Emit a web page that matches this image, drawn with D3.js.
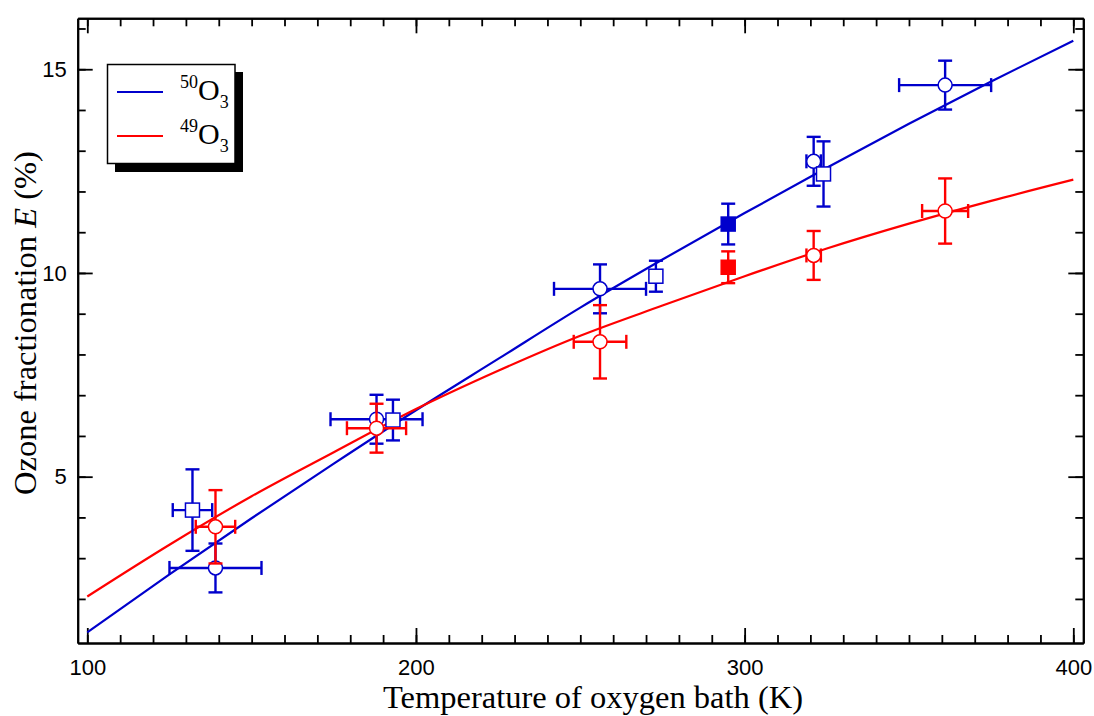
<!DOCTYPE html>
<html lang="en">
<head>
<meta charset="UTF-8">
<title>Ozone fractionation</title>
<script src="https://d3js.org/d3.v7.min.js"></script>
<style>
  body { margin: 0; background: #fff; }
  .tick text { font-family: "Liberation Sans", Arial, sans-serif; font-size: 22px; fill: #000; }
  .title { font-family: "Liberation Serif", "Times New Roman", serif; font-size: 32.5px; fill: #000; }
</style>
</head>
<body>
<svg width="1094" height="716"></svg>
<script>
// fitted curves
const fitT = [100, 125, 150, 175, 200, 225, 250, 275, 300, 325, 350, 375, 400];
const fit50 = [1.18, 2.60, 3.98, 5.32, 6.63, 7.89, 9.15, 10.33, 11.47, 12.58, 13.66, 14.70, 15.70];
const fit49 = [2.06, 3.33, 4.52, 5.60, 6.66, 7.60, 8.46, 9.20, 9.92, 10.60, 11.21, 11.77, 12.29];

// 50O3 measurements
const t50  = [139, 188, 256, 321, 361, 132, 193, 273, 324, 295];
const e50  = [2.76, 6.41, 9.61, 12.74, 14.61, 4.18, 6.39, 9.92, 12.43, 11.2];
const dt50 = [14, 14, 14, 2.2, 14, 6, 0, 0, 0, 0];
const de50 = [0.6, 0.6, 0.6, 0.6, 0.6, 1.0, 0.5, 0.38, 0.8, 0.5];
const mk50 = ['circle', 'circle', 'circle', 'circle', 'circle', 'square', 'square', 'square', 'square', 'filled'];

// 49O3 measurements
const t49  = [139, 188, 256, 321, 361, 295];
const e49  = [3.77, 6.19, 8.31, 10.43, 11.52, 10.14];
const dt49 = [6, 9, 8, 2.2, 7, 0];
const de49 = [0.9, 0.6, 0.9, 0.6, 0.8, 0.39];
const mk49 = ['circle', 'circle', 'circle', 'circle', 'circle', 'filled'];

const xMajor = [100, 200, 300, 400];
const yMajor = [5, 10, 15];

const blue = '#0000cc', red = '#ff0000';

const svg = d3.select('svg');
const L = 77.7, R = 1083.3, T = 18.3, B = 643;

const x = d3.scaleLinear().domain([97.08, 403.04]).range([L, R]);
const y = d3.scaleLinear().domain([0.918, 16.25]).range([B, T]);

const xMinor = d3.range(100, 401, 10);
const yMinor = d3.range(2, 17, 1);

function axisPair(axisFn, scale, pos, minor, major, labels, pad) {
  let g = svg.append('g').attr('transform', pos);
  g.append('g').call(axisFn(scale).tickValues(minor).tickSize(-8).tickSizeOuter(0).tickFormat(''));
  g.append('g').call(axisFn(scale).tickValues(major).tickSize(-15).tickSizeOuter(0)
      .tickPadding(pad).tickFormat(labels ? d3.format('d') : ''));
  g.selectAll('path.domain').attr('stroke', '#000').attr('stroke-width', 2);
  g.selectAll('.tick line').attr('stroke', '#000').attr('stroke-width', 1.8);
  return g;
}

axisPair(d3.axisBottom, x, `translate(0,${B})`, xMinor, xMajor, true, 16);
axisPair(d3.axisTop, x, `translate(0,${T})`, xMinor, xMajor, false, 0);
axisPair(d3.axisLeft, y, `translate(${L},0)`, yMinor, yMajor, true, 11);
axisPair(d3.axisRight, y, `translate(${R},0)`, yMinor, yMajor, false, 0);

// axis titles
svg.append('text').attr('class', 'title')
  .attr('x', 593).attr('y', 708).attr('text-anchor', 'middle')
  .text('Temperature of oxygen bath (K)');

let yt = svg.append('text').attr('class', 'title')
  .attr('transform', 'translate(36,323) rotate(-90)').attr('text-anchor', 'middle');
yt.append('tspan').text('Ozone fractionation ');
yt.append('tspan').attr('font-style', 'italic').text('E');
yt.append('tspan').text(' (%)');

// fit curves
const line = d3.line().curve(d3.curveMonotoneX);
svg.append('path')
  .attr('d', line(fitT.map((t, i) => [x(t), y(fit50[i])])))
  .attr('fill', 'none').attr('stroke', blue).attr('stroke-width', 2.2);
svg.append('path')
  .attr('d', line(fitT.map((t, i) => [x(t), y(fit49[i])])))
  .attr('fill', 'none').attr('stroke', red).attr('stroke-width', 2.2);

function drawSeries(ts, es, dts, des, mks, color) {
  let pts = ts.map((t, i) => ({t: t, e: es[i], dt: dts[i], de: des[i], mk: mks[i]}));
  let g = svg.append('g');
  let cap = 7;
  pts.forEach(p => {
    let cx = x(p.t), cy = y(p.e);
    let eb = g.append('g').attr('stroke', color).attr('stroke-width', 2.4);
    if (p.de > 0) {
      let y0 = y(p.e - p.de), y1 = y(p.e + p.de);
      eb.append('line').attr('x1', cx).attr('x2', cx).attr('y1', y0).attr('y2', y1);
      eb.append('line').attr('x1', cx - cap).attr('x2', cx + cap).attr('y1', y0).attr('y2', y0);
      eb.append('line').attr('x1', cx - cap).attr('x2', cx + cap).attr('y1', y1).attr('y2', y1);
    }
    if (p.dt > 0) {
      let x0 = x(p.t - p.dt), x1 = x(p.t + p.dt);
      eb.append('line').attr('x1', x0).attr('x2', x1).attr('y1', cy).attr('y2', cy);
      eb.append('line').attr('x1', x0).attr('x2', x0).attr('y1', cy - cap).attr('y2', cy + cap);
      eb.append('line').attr('x1', x1).attr('x2', x1).attr('y1', cy - cap).attr('y2', cy + cap);
    }
  });
  pts.forEach(p => {
    let cx = x(p.t), cy = y(p.e);
    if (p.mk === 'circle') {
      g.append('circle').attr('cx', cx).attr('cy', cy).attr('r', 7)
        .attr('fill', '#fff').attr('stroke', color).attr('stroke-width', 1.5);
    } else {
      g.append('rect').attr('x', cx - 7).attr('y', cy - 7).attr('width', 14).attr('height', 14)
        .attr('fill', p.mk === 'filled' ? color : '#fff').attr('stroke', color).attr('stroke-width', 1.5);
    }
  });
}

drawSeries(t50, e50, dt50, de50, mk50, blue);
drawSeries(t49, e49, dt49, de49, mk49, red);

// legend
const leg = svg.append('g');
leg.append('rect').attr('x', 115).attr('y', 72).attr('width', 128).attr('height', 100).attr('fill', '#000');
leg.append('rect').attr('x', 107.5).attr('y', 64.5).attr('width', 127.5).attr('height', 99)
  .attr('fill', '#fff').attr('stroke', '#000').attr('stroke-width', 1.5);

const legItems = [{mass: '50', color: blue, y: 92}, {mass: '49', color: red, y: 136}];
legItems.forEach(d => {
  leg.append('line').attr('x1', 117).attr('x2', 163).attr('y1', d.y).attr('y2', d.y)
    .attr('stroke', d.color).attr('stroke-width', 2.2);
  let tx = leg.append('text').attr('x', 180).attr('y', d.y + 8)
    .attr('font-family', '"Liberation Serif", "Times New Roman", serif').attr('font-size', 30);
  tx.append('tspan').attr('font-size', 18).attr('dy', -12).text(d.mass);
  tx.append('tspan').attr('dy', 12).text('O');
  tx.append('tspan').attr('font-size', 18).attr('dy', 8).text('3');
});
</script>
</body>
</html>
